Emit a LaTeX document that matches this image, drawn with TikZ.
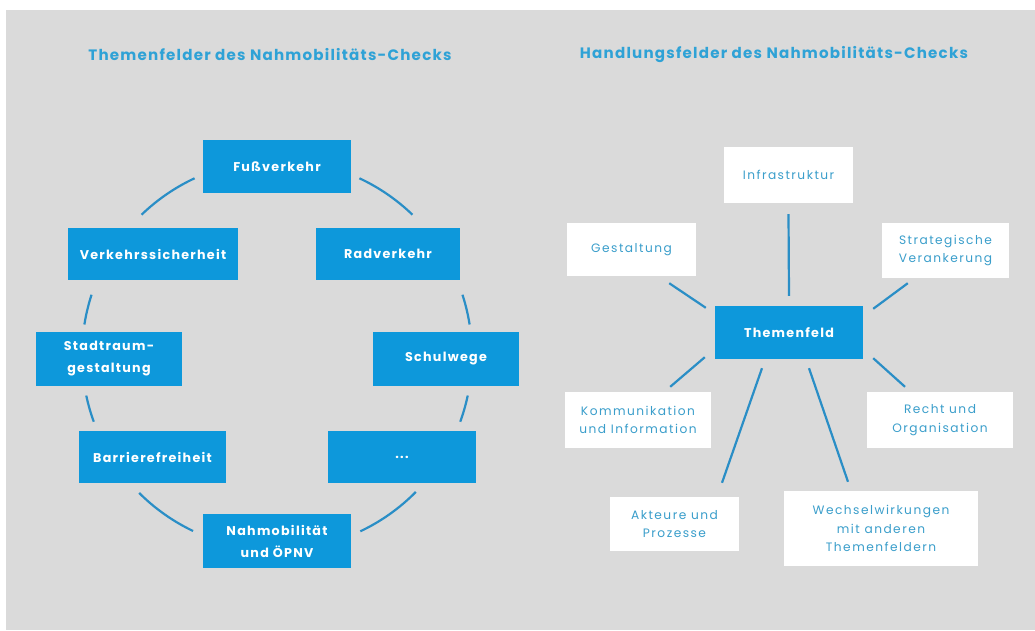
\documentclass[tikz,border=0pt]{standalone}
\usepackage{fontspec}
\setmainfont{Poppins}
\usetikzlibrary{calc}
\definecolor{bgray}{HTML}{DADADA}
\definecolor{boxblue}{HTML}{0D98DB}
\definecolor{titleblue}{HTML}{2FA2D6}
\definecolor{txtblue}{HTML}{3A9ECB}
\definecolor{lineblue}{HTML}{2A8EC6}
\tikzset{
  bluebox/.style={draw=none, fill=boxblue, text=white, font=\fontsize{12.7}{22}\selectfont\bfseries\addfontfeatures{LetterSpace=10}, align=center, inner sep=0pt},
  whitebox/.style={draw=none, fill=white, text=txtblue, font=\fontsize{12.2}{18.5}\selectfont\addfontfeatures{LetterSpace=12}, align=center, inner sep=0pt},
  titletext/.style={text=titleblue, font=\fontsize{15.1}{16}\selectfont\bfseries\addfontfeatures{LetterSpace=8}, inner sep=0pt},
  ring/.style={draw=lineblue, line width=2.2pt},
  spoke/.style={draw=lineblue, line width=2.2pt}
}
\begin{document}
\begin{tikzpicture}[x=1pt,y=-1pt]
\useasboundingbox (0,0) rectangle (1035,630);
\fill[white] (0,0) rectangle (1035,630);
\fill[bgray] (6,10) rectangle (1035,630);

% titles
\node[titletext] (t1) at (270,55) {Themenfelder des Nahmobilitäts-Checks};
\node[titletext] (t2) at (774,55) {Handlungsfelder des Nahmobilitäts-Checks};

% left ring
\node[bluebox, minimum width=148, minimum height=53] (fuss) at (277,166.5) {Fußverkehr};
\node[bluebox, minimum width=170, minimum height=52] (verk) at (153,254) {Verkehrssicherheit};
\node[bluebox, minimum width=144, minimum height=52] (rad) at (388,254) {Radverkehr};
\node[bluebox, minimum width=146, minimum height=54] (stadt) at (109,359) {Stadtraum-\\gestaltung};
\node[bluebox, minimum width=146, minimum height=54] (schul) at (446,359) {Schulwege};
\node[bluebox, minimum width=147, minimum height=52] (barr) at (152.5,457) {Barrierefreiheit};
\node[bluebox, minimum width=148, minimum height=52] (dots) at (402,457) {...};
\node[bluebox, minimum width=148, minimum height=54] (nahm) at (277,541) {Nahmobilität\\und ÖPNV};

\coordinate (C) at (277,355);
\foreach \a/\b in {-115/-134, -65/-46, -162/-171, -18/-9, -192/-200, 12/20, -225/-244.5, 44.6/64.7}{
  \draw[ring] ($(C)+(\a:195)$) arc[start angle=\a, end angle=\b, radius=195];
}

% right star
\node[bluebox, minimum width=148, minimum height=53] (them) at (789,332.5) {Themenfeld};
\node[whitebox, minimum width=129, minimum height=56] (infra) at (788.5,175) {Infrastruktur};
\node[whitebox, minimum width=129, minimum height=53] (gest) at (631.5,249.5) {Gestaltung};
\node[whitebox, minimum width=127, minimum height=55] (strat) at (945.5,250.5) {Strategische\\Verankerung};
\node[whitebox, minimum width=146, minimum height=56] (komm) at (638,420) {Kommunikation\\und Information};
\node[whitebox, minimum width=146, minimum height=56] (recht) at (940,420) {Recht und\\Organisation};
\node[whitebox, minimum width=129, minimum height=54] (akt) at (674.5,524) {Akteure und\\Prozesse};
\node[whitebox, minimum width=194, minimum height=75] (wech) at (881,528.5) {Wechselwirkungen\\mit anderen\\Themenfeldern};

\draw[spoke] ([yshift=-11]infra.south) -- ([yshift=10]them.north);
\draw[spoke] ($(gest.south east)+(-27,7)$) -- ($(them.north west)+(-9,2)$);
\draw[spoke] ($(strat.south west)+(26,5)$) -- ($(them.north east)+(10,3)$);
\draw[spoke] ($(them.south west)+(-10,-2)$) -- ($(komm.north east)+(-41,-5)$);
\draw[spoke] ($(them.south)+(-27,9)$) -- ($(akt.north)+(47.5,-14)$);
\draw[spoke] ($(them.south)+(20,9)$) -- ($(wech.north)+(-33,-9)$);
\draw[spoke] ($(them.south east)+(10,-1)$) -- ($(recht.north)+(-35,-5)$);
\end{tikzpicture}
\end{document}
